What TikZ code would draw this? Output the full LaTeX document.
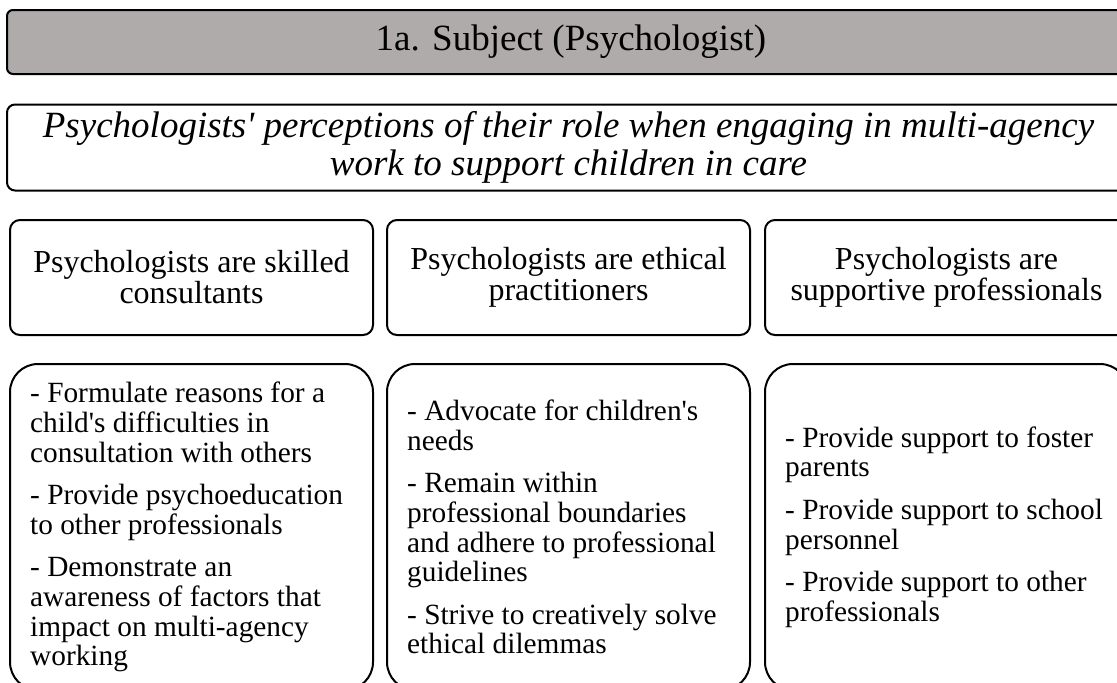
\documentclass[tikz,border=0pt]{standalone}
\usepackage{fontspec}
\setmainfont{Liberation Serif}[Ligatures=TeXOff]
\usepackage{tikz}
\definecolor{headgray}{RGB}{174,171,170}
\tikzset{
  head/.style={rectangle, draw, line width=1.5pt, rounded corners=4.5pt,
               fill=headgray, minimum width=846pt, minimum height=48pt,
               font=\fontsize{27.75}{27.5}\selectfont},
  aim/.style={rectangle, draw, line width=1.5pt, rounded corners=6pt,
              align=center, minimum width=842.25pt, minimum height=64.5pt,
              font=\itshape\fontsize{27.75}{28.5}\selectfont},
  theme/.style={rectangle, draw, line width=1.5pt, rounded corners=7.5pt,
                align=center, minimum width=272.25pt, minimum height=86.25pt,
                font=\fontsize{24}{23.3}\selectfont},
  detail/.style={rectangle, draw, line width=1.5pt, rounded corners=21pt,
                 align=flush left, text width=242pt, inner xsep=15pt,
                 minimum width=272.25pt, minimum height=244.5pt,
                 font=\fontsize{22}{22.3}\selectfont},
}
\begin{document}
\begin{tikzpicture}[x=0.75pt,y=-0.75pt]
\useasboundingbox (0,0) rectangle (1117,682);
\clip (0,0) rectangle (1117,682);
\node[head] (subject) at (571,42) {1a. Subject (Psychologist)};
\node[aim] (role) at (568.5,147.5) {Psychologists' perceptions of their role when engaging in multi-agency\\ work to support children in care};
% themes
\node[theme] (skilled) at (191.5,277.5) {Psychologists are skilled\\ consultants};
\node[theme] (ethical) at (568.5,277.5) {Psychologists are ethical\\ practitioners};
\node[theme] (support) at (946.5,277.5) {Psychologists are\\ supportive professionals};
% sub-themes
\node[detail] (skilledsub) at (191.5,527) {- Formulate reasons for a\\ child's difficulties in\\ consultation with others\\[9.5pt]
  - Provide psychoeducation\\ to other professionals\\[9.5pt]
  - Demonstrate an\\ awareness of factors that\\ impact on multi-agency\\ working};
\node[detail] (ethicalsub) at (568.5,527) {- Advocate for children's\\ needs\\[9.5pt]
  - Remain within\\ professional boundaries\\ and adhere to professional\\ guidelines\\[9.5pt]
  - Strive to creatively solve\\ ethical dilemmas};
\node[detail] (supportsub) at (946.5,527) {- Provide support to foster\\ parents\\[9.5pt]
  - Provide support to school\\ personnel\\[9.5pt]
  - Provide support to other\\ professionals};
\end{tikzpicture}
\end{document}
